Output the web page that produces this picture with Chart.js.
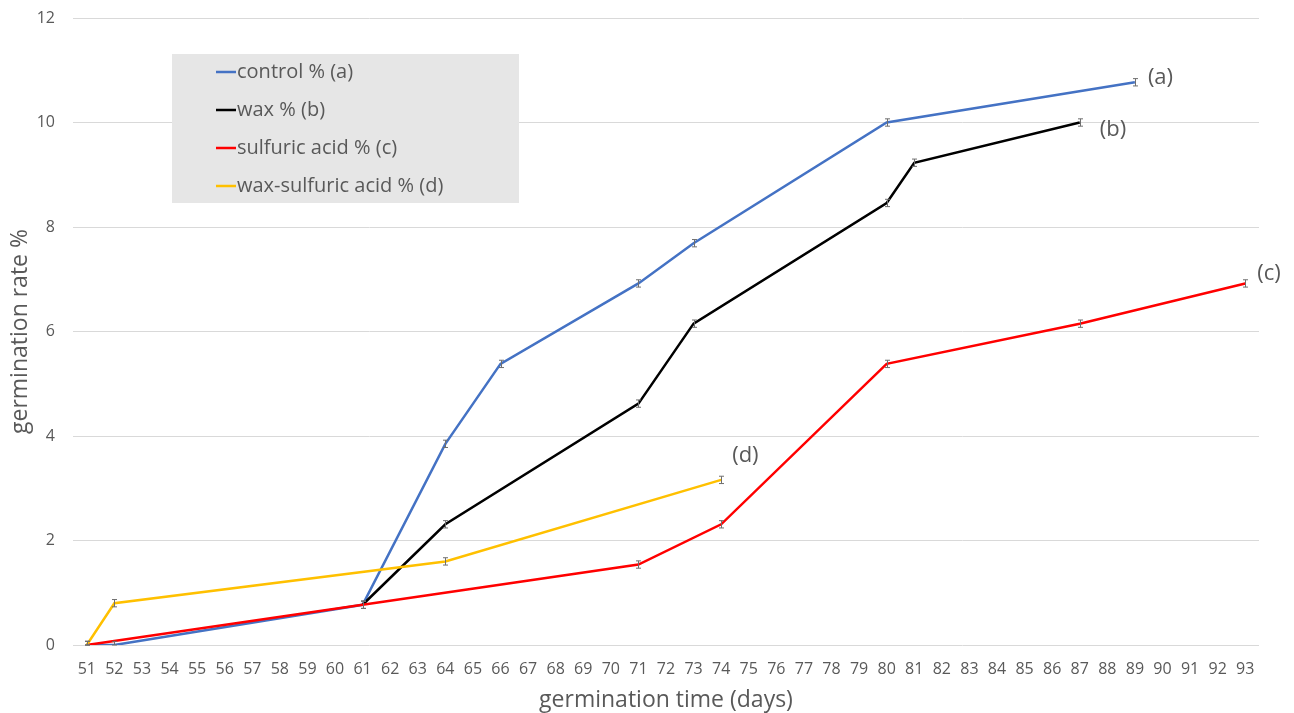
<!DOCTYPE html>
<html>
<head>
<meta charset="utf-8">
<script src="https://cdn.jsdelivr.net/npm/chart.js@4.4.0/dist/chart.umd.min.js"></script>
<style>
  html, body { margin: 0; padding: 0; background: #fff; }
  #wrap { position: relative; width: 1294px; height: 713px; }
</style>
</head>
<body>
<div id="wrap"><canvas id="germChart"></canvas></div>
<script>
// jours de germination (axe x)
const dayLabels = [51, 52, 53, 54, 55, 56, 57, 58, 59, 60, 61, 62, 63, 64, 65, 66, 67, 68, 69, 70,
    71, 72, 73, 74, 75, 76, 77, 78, 79, 80, 81, 82, 83, 84, 85, 86, 87, 88, 89, 90, 91, 92, 93];

// séries
const controlDays = [51, 52, 61, 64, 66, 71, 73, 80, 89];
const controlRate = [0, 0, 0.77, 3.85, 5.38, 6.92, 7.69, 10.0, 10.77];
const waxDays = [61, 64, 71, 73, 80, 81, 87];
const waxRate = [0.77, 2.31, 4.62, 6.15, 8.46, 9.23, 10.0];
const acidDays = [51, 61, 71, 74, 80, 87, 93];
const acidRate = [0, 0.77, 1.54, 2.31, 5.38, 6.15, 6.92];
const waxAcidDays = [51, 52, 64, 74];
const waxAcidRate = [0, 0.8, 1.6, 3.16];

const seriesNames = ['control % (a)', 'wax % (b)', 'sulfuric acid % (c)', 'wax-sulfuric acid % (d)'];
const endTags = ['(a)', '(b)', '(c)', '(d)'];
const errorSize = 0.07;

const textGrey = '#595959';
const fontFamily = '"Open Sans", "Noto Sans", sans-serif';

function toPoints(days, rates) {
    return days.map(function(d, i) { return { x: d, y: rates[i] }; });
}

// barres d'erreur
const errorBarsPlugin = {
    id: 'errorBars',
    afterDatasetsDraw: function(chart) {
        const ctx = chart.ctx;
        const yScale = chart.scales.y;
        ctx.save();
        ctx.strokeStyle = '#6f6f6f';
        ctx.lineWidth = 1;
        chart.data.datasets.forEach(function(ds, i) {
            const meta = chart.getDatasetMeta(i);
            meta.data.forEach(function(pt, j) {
                const v = ds.data[j].y;
                const top = yScale.getPixelForValue(v + errorSize);
                const bot = yScale.getPixelForValue(Math.max(0, v - errorSize));
                const x = Math.round(pt.x) + 0.5;
                ctx.beginPath();
                ctx.moveTo(x, top); ctx.lineTo(x, bot);
                ctx.moveTo(x - 2.5, top); ctx.lineTo(x + 2.5, top);
                ctx.moveTo(x - 2.5, bot); ctx.lineTo(x + 2.5, bot);
                ctx.stroke();
            });
        });
        ctx.restore();
    }
};

// étiquettes (a)..(d) en bout de courbe
const endTagsPlugin = {
    id: 'endTags',
    afterDatasetsDraw: function(chart) {
        const ctx = chart.ctx;
        const offsets = [[13, -5], [20, 7], [12, -10], [11, -24]];
        ctx.save();
        ctx.font = '22px ' + fontFamily;
        ctx.fillStyle = textGrey;
        ctx.textBaseline = 'middle';
        ctx.textAlign = 'left';
        chart.data.datasets.forEach(function(ds, i) {
            const meta = chart.getDatasetMeta(i);
            const last = meta.data[meta.data.length - 1];
            ctx.fillText(endTags[i], last.x + offsets[i][0], last.y + offsets[i][1]);
        });
        ctx.restore();
    }
};

// légende dans un cadre gris
const boxLegendPlugin = {
    id: 'boxLegend',
    beforeDatasetsDraw: function(chart) {
        const ctx = chart.ctx;
        const area = chart.chartArea;
        const left = area.left + 99, top = area.top + 36;
        ctx.save();
        ctx.fillStyle = '#e6e6e6';
        ctx.fillRect(left, top, 347, 149);
        ctx.font = '20px ' + fontFamily;
        ctx.textBaseline = 'middle';
        chart.data.datasets.forEach(function(ds, i) {
            const y = top + 18 + i * 38;
            ctx.strokeStyle = ds.borderColor;
            ctx.lineWidth = 2.5;
            ctx.beginPath();
            ctx.moveTo(left + 44, y);
            ctx.lineTo(left + 64, y);
            ctx.stroke();
            ctx.fillStyle = textGrey;
            ctx.fillText(ds.label, left + 65, y);
        });
        ctx.restore();
    }
};

const ctx = document.getElementById('germChart').getContext('2d');

const germChart = new Chart(ctx, {
    type: 'line',
    data: {
        labels: dayLabels,
        datasets: [
            { label: seriesNames[0], data: toPoints(controlDays, controlRate), borderColor: '#4472C4', order: 4 },
            { label: seriesNames[1], data: toPoints(waxDays, waxRate), borderColor: '#000000', order: 3 },
            { label: seriesNames[2], data: toPoints(acidDays, acidRate), borderColor: '#FF0000', order: 2 },
            { label: seriesNames[3], data: toPoints(waxAcidDays, waxAcidRate), borderColor: '#FFC000', order: 1 }
        ].map(function(ds) {
            ds.borderWidth = 2.5;
            ds.pointRadius = 0;
            ds.tension = 0;
            ds.fill = false;
            return ds;
        })
    },
    options: {
        responsive: true,
        maintainAspectRatio: false,
        animation: false,
        layout: {
            padding: { top: 18, right: 35, left: 0, bottom: 0 }
        },
        scales: {
            x: {
                type: 'category',
                offset: true,
                grid: { display: false },
                border: { display: false },
                ticks: {
                    color: textGrey,
                    font: { family: fontFamily, size: 16 },
                    padding: 7,
                    maxRotation: 0,
                    autoSkip: false
                },
                title: {
                    display: true,
                    text: 'germination time (days)',
                    color: textGrey,
                    font: { family: fontFamily, size: 23, lineHeight: 1.05 },
                    padding: { top: 0, bottom: 0 }
                },
                afterFit: function(scale) { scale.height = 68; }
            },
            y: {
                min: 0,
                max: 12,
                ticks: {
                    stepSize: 2,
                    color: textGrey,
                    font: { family: fontFamily, size: 16 },
                    padding: 18
                },
                grid: { color: '#d9d9d9', drawTicks: false },
                border: { display: false },
                title: {
                    display: true,
                    text: 'germination rate %',
                    color: textGrey,
                    font: { family: fontFamily, size: 23 },
                    padding: { top: 7, bottom: 0 }
                },
                afterFit: function(scale) {
                    scale.width = 73;
                    scale.paddingTop = 0;
                    scale.paddingBottom = 0;
                }
            }
        },
        plugins: {
            legend: { display: false },
            tooltip: { enabled: false }
        }
    },
    plugins: [boxLegendPlugin, errorBarsPlugin, endTagsPlugin]
});
</script>
</body>
</html>
